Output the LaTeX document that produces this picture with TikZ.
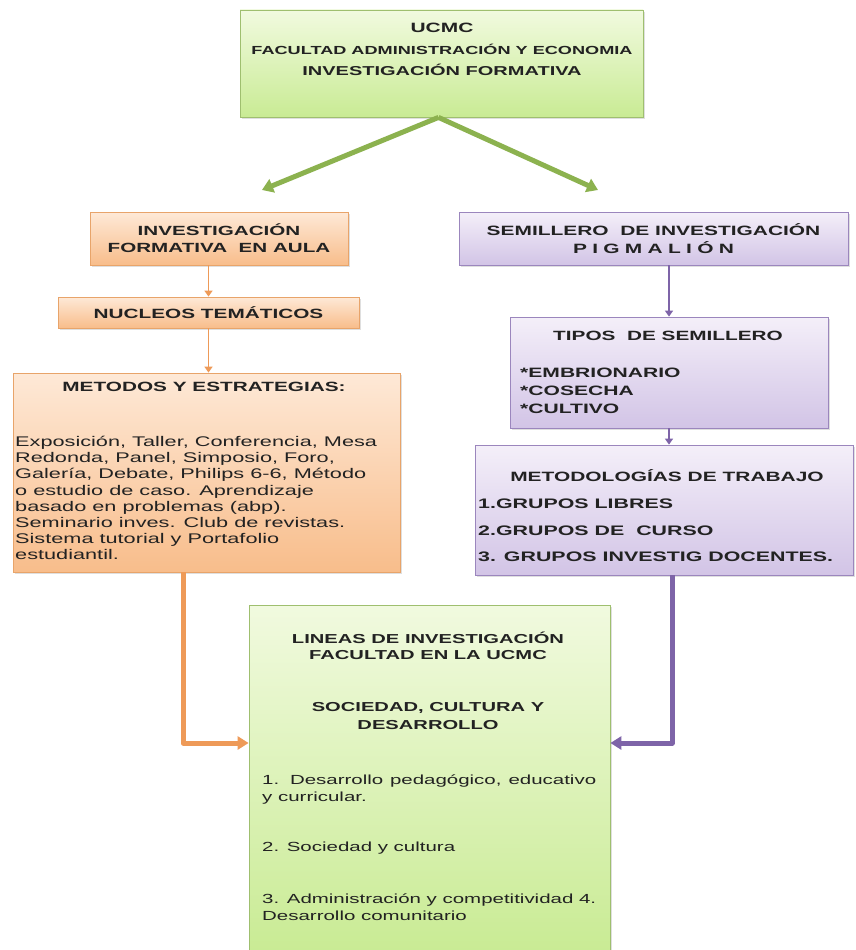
\documentclass[tikz,border=0pt]{standalone}
\usepackage{fontspec}
\setmainfont{Liberation Sans}[FakeStretch=1.55]
\usetikzlibrary{arrows.meta,shadows}
\definecolor{grLine}{HTML}{9FBF6F}
\definecolor{grTop}{HTML}{F1FADF}
\definecolor{grBot}{HTML}{C9EB94}
\definecolor{orLine}{HTML}{E8A46A}
\definecolor{orTop}{HTML}{FEE9D7}
\definecolor{orBot}{HTML}{F8BD8B}
\definecolor{puLine}{HTML}{9B86BD}
\definecolor{puTop}{HTML}{F4EFF9}
\definecolor{puBot}{HTML}{D2C4E6}
\definecolor{grArr}{HTML}{8CB24F}
\definecolor{orArr}{HTML}{EE9A58}
\definecolor{puArr}{HTML}{7E64A8}
\definecolor{txtc}{HTML}{222222}
\begin{document}
\begin{tikzpicture}[x=1pt,y=-1pt,
  box/.style={rectangle, inner sep=0pt, line width=0.8pt,
    drop shadow={shadow xshift=2pt, shadow yshift=-2pt, opacity=0.25}},
  gbox/.style={box, draw=grLine, top color=grTop, bottom color=grBot},
  obox/.style={box, draw=orLine, top color=orTop, bottom color=orBot},
  pbox/.style={box, draw=puLine, top color=puTop, bottom color=puBot},
  txt/.style={inner sep=0pt, text=txtc},
  capline/.style={txt, text height=0.72em, text depth=0pt},
  garrow/.style={draw=grArr, line width=5pt, -{Triangle[length=11pt,width=14pt]}},
  othin/.style={draw=orArr, line width=1.8pt, -{Triangle[length=6pt,width=8pt]}},
  pthin/.style={draw=puArr, line width=1.8pt, -{Triangle[length=6pt,width=8pt]}},
  othick/.style={draw=orArr, line width=5pt, line join=round, -{Triangle[length=11pt,width=13pt]}},
  pthick/.style={draw=puArr, line width=5pt, line join=round, -{Triangle[length=11pt,width=13pt]}}
]
\fill[white] (0,0) rectangle (855,950);
\useasboundingbox (0,0) rectangle (855,950);

% boxes
\node[gbox, minimum width=403pt, minimum height=107pt] (top) at (441.5,63.5) {};
\node[obox, minimum width=258pt, minimum height=53pt, align=center,
  font=\bfseries\fontsize{13.3pt}{17pt}\selectfont, text=txtc] (aula) at (219,238.5)
  {INVESTIGACIÓN\\FORMATIVA\ \ EN AULA};
\node[obox, minimum width=301pt, minimum height=31pt,
  font=\bfseries\fontsize{13.4pt}{16pt}\selectfont, text=txtc] (nuc) at (208.5,312.5)
  {NUCLEOS TEMÁTICOS};
\node[obox, minimum width=387pt, minimum height=199pt] (met) at (206.5,472.5) {};
\node[pbox, minimum width=389pt, minimum height=53pt, align=center,
  font=\bfseries\fontsize{13.5pt}{18pt}\selectfont, text=txtc] (sem) at (653.5,238.5)
  {SEMILLERO\ \ DE INVESTIGACIÓN\\P\hspace{5.3pt}I\hspace{5.3pt}G\hspace{5.3pt}M\hspace{5.3pt}A\hspace{5.3pt}L\hspace{5.3pt}I\hspace{5.3pt}Ó\hspace{5.3pt}N};
\node[pbox, minimum width=318pt, minimum height=111pt] (tip) at (669,372.5) {};
\node[pbox, minimum width=378pt, minimum height=130pt] (mtd) at (664,510) {};
\node[gbox, minimum width=361pt, minimum height=347pt] (bot) at (429.5,778.5) {};

% top box text
\node[capline, font=\bfseries\fontsize{13.5pt}{16pt}\selectfont] (t1) at (442,29) {UCMC};
\node[capline, font=\bfseries\fontsize{11.7pt}{14pt}\selectfont] (t2) at (442,51) {FACULTAD ADMINISTRACIÓN Y ECONOMIA};
\node[capline, font=\bfseries\fontsize{12.9pt}{16pt}\selectfont] (t3) at (442,72) {INVESTIGACIÓN FORMATIVA};

% metodos
\node[capline, font=\bfseries\fontsize{13.4pt}{16pt}\selectfont] (mt) at (204,388) {METODOS Y ESTRATEGIAS:};
\node[txt, anchor=north west, align=left, font=\fontsize{14pt}{16.2pt}\selectfont] (mb) at (15,436)
  {Exposición, Taller, Conferencia, Mesa\\
   Redonda, Panel, Simposio, Foro,\\
   Galería, Debate, Philips 6-6, Método\\
   o estudio de caso. Aprendizaje\\
   basado en problemas (abp).\\
   Seminario inves. Club de revistas.\\
   Sistema tutorial y Portafolio\\
   estudiantil.};

% tipos
\node[capline, font=\bfseries\fontsize{13.4pt}{16pt}\selectfont] (tt) at (668,337) {TIPOS\ \ DE SEMILLERO};
\node[txt, anchor=north west, align=left, font=\bfseries\fontsize{13.6pt}{18pt}\selectfont] (tl) at (520,368)
  {*EMBRIONARIO\\*COSECHA\\*CULTIVO};

% metodologias
\node[capline, font=\bfseries\fontsize{13.5pt}{16pt}\selectfont] (mdt) at (667,478) {METODOLOGÍAS DE TRABAJO};
\node[txt, anchor=north west, align=left, font=\bfseries\fontsize{13.8pt}{26.5pt}\selectfont] (mdl) at (478,499)
  {1.GRUPOS LIBRES\\2.GRUPOS DE\ \ CURSO\\3. GRUPOS INVESTIG DOCENTES.};

% bottom box
\node[txt, align=center, font=\bfseries\fontsize{13pt}{16.5pt}\selectfont] (bl1) at (428,646)
  {LINEAS DE INVESTIGACIÓN\\FACULTAD EN LA UCMC};
\node[txt, align=center, font=\bfseries\fontsize{13pt}{17.5pt}\selectfont] (bl2) at (428,716)
  {SOCIEDAD, CULTURA Y\\DESARROLLO};
\node[txt, anchor=north west, text width=334pt, align=justify, font=\fontsize{13.2pt}{16.8pt}\selectfont] (b1) at (262,775)
  {1. Desarrollo pedagógico, educativo\linebreak y curricular.};
\node[txt, anchor=north west, text width=334pt, align=justify, font=\fontsize{13.2pt}{16.8pt}\selectfont] (b2) at (262,842)
  {2. Sociedad y cultura};
\node[txt, anchor=north west, text width=334pt, align=justify, font=\fontsize{13.2pt}{16.8pt}\selectfont] (b3) at (262,894)
  {3. Administración y competitividad 4.\linebreak Desarrollo comunitario};

% connectors
\coordinate (gl) at (262,190);
\coordinate (gr) at (598,190);
\draw[garrow] ([xshift=-3pt]top.south) -- (gl);
\draw[garrow] ([xshift=-3pt]top.south) -- (gr);

\draw[othin] (aula.south -| nuc.north) -- (nuc.north);
\draw[othin] (nuc.south) -- (nuc.south |- met.north);
\draw[pthin] (sem.south -| tip.north) -- (tip.north);
\draw[pthin] (tip.south) -- (tip.south |- mtd.north);

\coordinate (eo) at (183,743);
\coordinate (ep) at (672,743);
\draw[othick] (met.south -| eo) -- (eo) -- (bot.west |- eo);
\draw[pthick] (mtd.south -| ep) -- (ep) -- (bot.east |- ep);
\end{tikzpicture}
\end{document}
